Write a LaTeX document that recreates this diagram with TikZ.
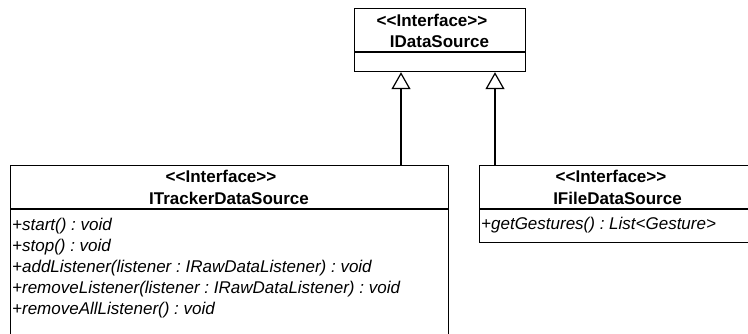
\documentclass[tikz,border=0pt]{standalone}
\usepackage{fontspec}
\setmainfont{Liberation Sans}
\usetikzlibrary{arrows.meta}
\frenchspacing
\tikzset{
  umlbox/.style={draw, line width=1.2pt, rectangle, anchor=north west, inner sep=0pt},
  hdr/.style={font=\fontsize{17}{20}\selectfont\bfseries, inner sep=0pt, anchor=center},
  meth/.style={font=\fontsize{17}{20}\selectfont\itshape, inner sep=0pt, anchor=west},
  divider/.style={line width=1.2pt},
  realize/.style={line width=1.2pt, -{Triangle[open, length=17pt, width=19pt, line width=1.2pt]}}
}
\begin{document}
\begin{tikzpicture}[x=1pt,y=-1pt]
\useasboundingbox (0,0) rectangle (748,334);
\clip (0,0) rectangle (748,334);
% boxes
\node[umlbox, minimum width=171pt, minimum height=63pt] (ids) at (354,8) {};
\node[umlbox, minimum width=438pt, minimum height=180pt] (trk) at (10,165) {};
\node[umlbox, minimum width=278pt, minimum height=77pt] (fds) at (479,165) {};
% dividers
\draw[divider] (ids.west |- 0,52) -- (ids.east |- 0,52);
\draw[divider] (trk.west |- 0,209) -- (trk.east |- 0,209);
\draw[divider] (fds.west |- 0,209) -- (fds.east |- 0,209);
% headers
\node[hdr] (idsS) at (432,20) {<{}<Interface>{}>};
\node[hdr] (idsN) at (439.5,42) {IDataSource};
\node[hdr] (trkS) at (221,176) {<{}<Interface>{}>};
\node[hdr] (trkN) at (229,198) {ITrackerDataSource};
\node[hdr] (fdsS) at (611,176) {<{}<Interface>{}>};
\node[hdr] (fdsN) at (617.5,198) {IFileDataSource};
% methods
\node[meth] (m1) at (12,226) {+start() : void};
\node[meth] (m2) at (12,247) {+stop() : void};
\node[meth] (m3) at (12,268) {+addListener(listener : IRawDataListener) : void};
\node[meth] (m4) at (12,289) {+removeListener(listener : IRawDataListener) : void};
\node[meth] (m5) at (12,310) {+removeAllListener() : void};
\node[meth] (g1) at (481,225) {+getGestures() : List<Gesture>};
% realization connectors
\coordinate (xa) at (401,0);
\coordinate (xb) at (495,0);
\draw[realize] (trk.north -| xa) -- (ids.south -| xa);
\draw[realize] (fds.north -| xb) -- (ids.south -| xb);
\end{tikzpicture}
\end{document}
